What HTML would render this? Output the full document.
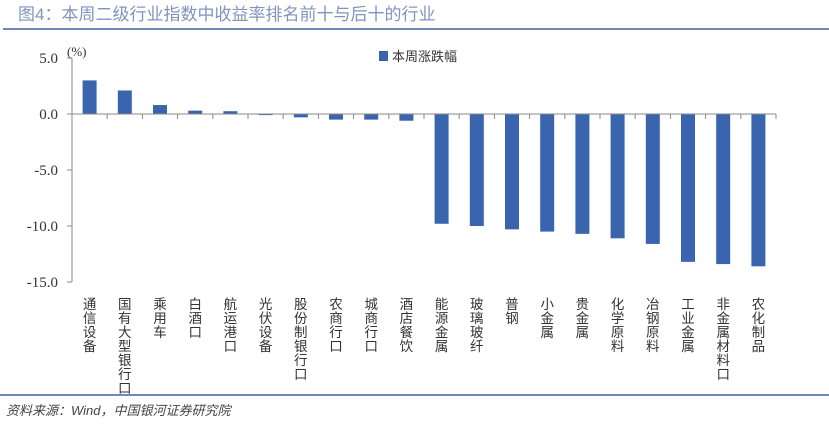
<!DOCTYPE html>
<html><head><meta charset="utf-8"><style>
body{margin:0;width:829px;height:424px;background:#fff;overflow:hidden;font-family:"Liberation Sans","Noto Sans CJK SC",sans-serif}
</style></head><body>
<svg width="829" height="424" xmlns="http://www.w3.org/2000/svg">
<text x="18" y="20" font-size="17" fill="#8094bf" font-family="Liberation Sans, Noto Sans CJK SC, sans-serif">图4：本周二级行业指数中收益率排名前十与后十的行业</text>
<line x1="3" y1="29" x2="829" y2="29" stroke="#6f89bd" stroke-width="2"/>
<g id="plot"></g>
<text x="67" y="56" font-size="13" fill="#333" font-family="Liberation Serif, serif">(%)</text>
<rect x="379" y="51" width="9" height="10" fill="#3a64ae"/>
<text x="392" y="61" font-size="13" fill="#333" font-family="Liberation Sans, Noto Sans CJK SC, sans-serif">本周涨跌幅</text>
<line x1="0" y1="395" x2="829" y2="395" stroke="#6f89bd" stroke-width="2"/>
<text x="6" y="415" font-size="13" fill="#444" font-style="italic" font-family="Liberation Sans, Noto Sans CJK SC, sans-serif">资料来源：Wind，中国银河证券研究院</text>
</svg>
<script>
const categories=["通信设备","国有大型银行口","乘用车","白酒口","航运港口","光伏设备","股份制银行口","农商行口","城商行口","酒店餐饮","能源金属","玻璃玻纤","普钢","小金属","贵金属","化学原料","冶钢原料","工业金属","非金属材料口","农化制品"];
const values=[3.0,2.1,0.8,0.3,0.25,-0.1,-0.3,-0.5,-0.5,-0.6,-9.8,-10.0,-10.3,-10.5,-10.7,-11.1,-11.6,-13.2,-13.4,-13.6];
const yTicks=[5,0,-5,-10,-15];
const yTickLabels=["5.0","0.0","-5.0","-10.0","-15.0"];
const NS="http://www.w3.org/2000/svg";
const g=document.getElementById('plot');
const x0=72,cw=35.2;
const y=v=>114-v*11.2;
const xc=i=>x0+cw*i+cw/2;
function mk(t,a){const e=document.createElementNS(NS,t);for(const k in a)e.setAttribute(k,a[k]);g.appendChild(e);return e;}
let ax=mk('line',{x1:x0,y1:y(5),x2:x0,y2:y(-15),stroke:'#888'});


yTicks.forEach((v,i)=>{
 let t=mk('line',{x1:x0-5,y1:y(v),x2:x0,y2:y(v),stroke:'#888'});
 
 
 let l=mk('text',{x:x0-14,y:y(v)+5,'text-anchor':'end','font-size':15,fill:'#333','font-family':'Liberation Serif, serif'});
 l.textContent=yTickLabels[i];
 
 
});
values.forEach((v,i)=>{
 let r=mk('rect',{x:xc(i)-7,y:Math.min(y(v),y(0)),width:14,height:Math.abs(y(v)-y(0)),fill:'#3a64ae'});
 
 
});
let xa=mk('line',{x1:x0,y1:y(0),x2:x0+cw*categories.length,y2:y(0),stroke:'#888'});


categories.forEach((c,i)=>{
 let t=mk('line',{x1:x0+cw*(i+1),y1:y(0),x2:x0+cw*(i+1),y2:y(0)+5,stroke:'#888'});
 
 
 let l=mk('text',{'font-size':13.5,fill:'#333','text-anchor':'middle','font-family':'Liberation Sans, Noto Sans CJK SC, sans-serif'});
 
 
 [...c].forEach((ch,j)=>{const s=document.createElementNS(NS,'tspan');s.setAttribute('x',xc(i));s.setAttribute('y',309+j*14);s.textContent=ch;l.appendChild(s);});
});
</script>
</body></html>
